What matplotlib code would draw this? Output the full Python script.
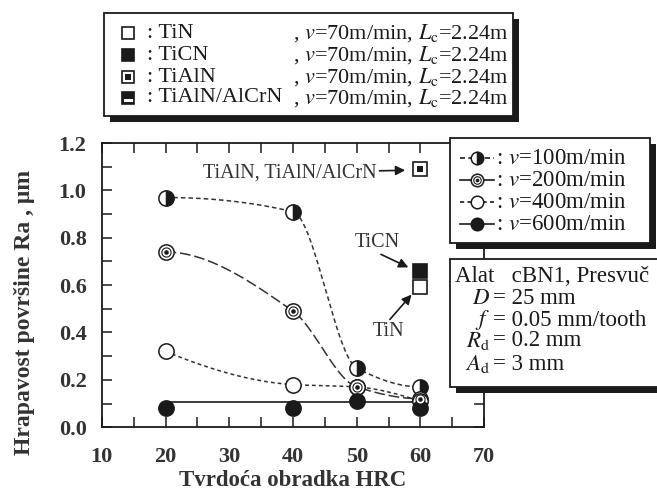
import numpy as np
import matplotlib.pyplot as plt
from matplotlib.patches import Rectangle
from matplotlib.ticker import MultipleLocator

plt.rcParams['font.family'] = ['Liberation Serif', 'DejaVu Serif']
plt.rcParams['mathtext.fontset'] = 'stix'

# surface roughness vs. workpiece hardness, cBN1 tool
hrc = [20, 40, 50, 60]
ra_100 = [0.97, 0.91, 0.25, 0.17]
ra_200 = [0.74, 0.49, 0.17, 0.12]
ra_400 = [0.32, 0.18, 0.17, 0.11]
ra_600 = [0.08, 0.08, 0.11, 0.08]
fit_600 = 0.105

# coated tools at v=70 m/min
coat_hrc = 60
ra_tin = 0.59
ra_ticn = 0.66
ra_tialn = 1.09

speeds = ['100', '200', '400', '600']
coatings = ['TiN', 'TiCN', 'TiAlN', 'TiAlN/AlCrN']

INK = '#1a1a1a'


def pchip(x, y, xs):
    # monotone cubic hermite, used only to draw the smooth trend lines
    x = np.asarray(x, float)
    y = np.asarray(y, float)
    h = np.diff(x)
    d = np.diff(y) / h
    m = np.zeros_like(y)
    for k in range(1, len(x) - 1):
        if d[k - 1] * d[k] > 0:
            w1 = 2 * h[k] + h[k - 1]
            w2 = h[k] + 2 * h[k - 1]
            m[k] = (w1 + w2) / (w1 / d[k - 1] + w2 / d[k])

    def end(h0, h1, d0, d1):
        v = ((2 * h0 + h1) * d0 - h0 * d1) / (h0 + h1)
        if np.sign(v) != np.sign(d0):
            return 0.0
        if np.sign(d0) != np.sign(d1) and abs(v) > abs(3 * d0):
            return 3 * d0
        return v

    m[0] = end(h[0], h[1], d[0], d[1])
    m[-1] = end(h[-1], h[-2], d[-1], d[-2])
    idx = np.clip(np.searchsorted(x, xs) - 1, 0, len(x) - 2)
    t = (xs - x[idx]) / h[idx]
    h00 = 2 * t**3 - 3 * t**2 + 1
    h10 = t**3 - 2 * t**2 + t
    h01 = -2 * t**3 + 3 * t**2
    h11 = t**3 - t**2
    return (h00 * y[idx] + h10 * h[idx] * m[idx]
            + h01 * y[idx + 1] + h11 * h[idx] * m[idx + 1])


def half_circle(ax, x, y, ms=11, **kw):
    ax.plot(x, y, 'o', ms=ms, mec=INK, mfc=INK, fillstyle='right',
            markerfacecoloralt='white', mew=1.1, ls='none', zorder=5, **kw)


def ring_circle(ax, x, y, ms=11, **kw):
    ax.plot(x, y, 'o', ms=ms, mec=INK, mfc='white', mew=1.1, ls='none', zorder=5, **kw)
    ax.plot(x, y, 'o', ms=ms * 0.6, mec=INK, mfc='white', mew=0.8, ls='none', zorder=6, **kw)
    ax.plot(x, y, 'o', ms=ms * 0.3, mec=INK, mfc=INK, mew=0, ls='none', zorder=7, **kw)


def open_circle(ax, x, y, ms=11, **kw):
    ax.plot(x, y, 'o', ms=ms, mec=INK, mfc='white', mew=1.1, ls='none', zorder=5, **kw)


def full_circle(ax, x, y, ms=11, **kw):
    ax.plot(x, y, 'o', ms=ms, mec=INK, mfc=INK, mew=1.1, ls='none', zorder=5, **kw)


def open_square(ax, x, y, ms=10):
    ax.plot(x, y, 's', ms=ms, mec=INK, mfc='white', mew=1.2, ls='none', zorder=5)


def full_square(ax, x, y, ms=10):
    ax.plot(x, y, 's', ms=ms, mec=INK, mfc=INK, mew=1.2, ls='none', zorder=5)


def double_square(ax, x, y, ms=10):
    ax.plot(x, y, 's', ms=ms, mec=INK, mfc='white', mew=1.2, ls='none', zorder=5)
    ax.plot(x, y, 's', ms=ms * 0.5, mec=INK, mfc=INK, mew=0, ls='none', zorder=6)


fig = plt.figure(figsize=(6.57, 4.95), dpi=100)
ax = fig.add_axes([0.155, 0.137, 0.582, 0.574])

xs = np.linspace(hrc[0], hrc[-1], 200)
line_kw = dict(color='#333333', lw=1.1, zorder=3)
ax.plot(xs, pchip(hrc, ra_100, xs), dashes=(3, 2), **line_kw)
ax.plot(xs, pchip(hrc, ra_200, xs), dashes=(7, 2.5), **line_kw)
ax.plot(xs, pchip(hrc, ra_400, xs), dashes=(2.5, 2), **line_kw)
ax.plot([hrc[0], hrc[-1]], [fit_600, fit_600], color=INK, lw=1.2, zorder=3)

half_circle(ax, hrc, ra_100)
ring_circle(ax, hrc, ra_200)
open_circle(ax, hrc, ra_400)
full_circle(ax, hrc, ra_600)

open_square(ax, coat_hrc, ra_tin)
full_square(ax, coat_hrc, ra_ticn)
double_square(ax, coat_hrc, ra_tialn)

arrow = dict(arrowstyle='-|>', color=INK, lw=1.2, mutation_scale=14, shrinkA=0, shrinkB=0)
ann_kw = dict(fontsize=14.5, color='#333333', ha='center', va='center')
ax.annotate('TiAlN, TiAlN/AlCrN', xy=(57.6, 1.085), xytext=(39.5, 1.075),
            arrowprops=arrow, **ann_kw)
ax.annotate('', xy=(58.1, 0.675), xytext=(53.8, 0.73), arrowprops=arrow)
ax.text(53.2, 0.778, 'TiCN', **ann_kw)
ax.annotate('', xy=(58.6, 0.56), xytext=(55.2, 0.455), arrowprops=arrow)
ax.text(55.0, 0.405, 'TiN', **ann_kw)

ax.set_xlim(10, 70)
ax.set_ylim(0, 1.2)
ax.xaxis.set_major_locator(MultipleLocator(10))
ax.xaxis.set_minor_locator(MultipleLocator(5))
ax.yaxis.set_major_locator(MultipleLocator(0.2))
ax.yaxis.set_minor_locator(MultipleLocator(0.1))
ax.yaxis.set_major_formatter(lambda v, p: f'{v:.1f}')
ax.tick_params(which='both', direction='in', top=True, right=True,
               length=7, width=1.1, color=INK)
ax.tick_params(which='major', labelsize=16, labelcolor='#333333')
ax.tick_params(axis='x', which='major', pad=14)
ax.tick_params(axis='y', which='major', pad=11)
for lab in ax.get_xticklabels() + ax.get_yticklabels():
    lab.set_fontweight('bold')
for s in ax.spines.values():
    s.set_linewidth(1.3)
    s.set_color(INK)

fig.text(0.445, 1 - 480 / 495, 'Tvrdoća obradka HRC', fontsize=16.5, fontweight='bold',
         color='#333333', ha='center', va='center')
fig.text(25 / 657, 1 - 312 / 495, 'Hrapavost površine Ra , μm', fontsize=17,
         fontweight='bold', color='#333333', rotation=90, ha='center', va='center')

# overlay in pixel units for the boxed keys
ov = fig.add_axes([0, 0, 1, 1], zorder=10)
ov.set_xlim(0, 657)
ov.set_ylim(495, 0)
ov.axis('off')


def shadow_box(x0, y0, x1, y1, off=6):
    ov.add_patch(Rectangle((x0 + off, y0 + off), x1 - x0, y1 - y0,
                           facecolor=INK, edgecolor='none', zorder=1))
    ov.add_patch(Rectangle((x0, y0), x1 - x0, y1 - y0, facecolor='white',
                           edgecolor=INK, lw=1.3, zorder=2))


txt = dict(fontsize=16, color=INK, va='center', zorder=4)

# coating key
shadow_box(104, 13, 513, 116)
rows = [33, 55, 77, 98]
for i, (name, y) in enumerate(zip(coatings, rows)):
    if i == 0:
        open_square(ov, 128, y, ms=8)
    elif i == 1:
        full_square(ov, 128, y, ms=8)
    elif i == 2:
        double_square(ov, 128, y, ms=8)
    else:
        full_square(ov, 128, y, ms=8)
        ov.plot([125, 131], [y + 1.5, y + 1.5], color='white', lw=2.2, zorder=6)
    ov.text(147, y, ': ' + name, **txt)
    ov.text(293, y, r', $v$=70m/min, $L_{\rm c}$=2.24m', **txt)

# speed key
shadow_box(450, 138, 650, 243)
rows = [158, 180, 202, 224]
styles = [(3, 2), None, (2.5, 2), None]
markers = [half_circle, ring_circle, open_circle, full_circle]
for sp, y, ds, mk in zip(speeds, rows, styles, markers):
    if ds is None:
        ov.plot([460, 494], [y, y], color=INK, lw=1.2, zorder=4)
    else:
        ov.plot([460, 494], [y, y], color=INK, lw=1.2, dashes=ds, zorder=4)
    mk(ov, 477, y, ms=9)
    ov.text(496, y, r': $v$=' + sp + 'm/min', **dict(txt, fontsize=16.5))

# tool / cutting condition box
box_txt = dict(txt, fontsize=16.5)
shadow_box(450, 259, 665, 387)
ov.text(455, 277, 'Alat   cBN1, Presvuč', **box_txt)
params = [(r'$D$', '25 mm'), (r'$f$', '0.05 mm/tooth'),
          (r'$R_{\rm d}$', '0.2 mm'), (r'$A_{\rm d}$', '3 mm')]
for (sym, val), y in zip(params, [298, 320, 341, 364]):
    ov.text(490, y, sym, ha='right', **box_txt)
    ov.text(493, y, '= ' + val, **box_txt)

fig.savefig('out.png', dpi=100)
